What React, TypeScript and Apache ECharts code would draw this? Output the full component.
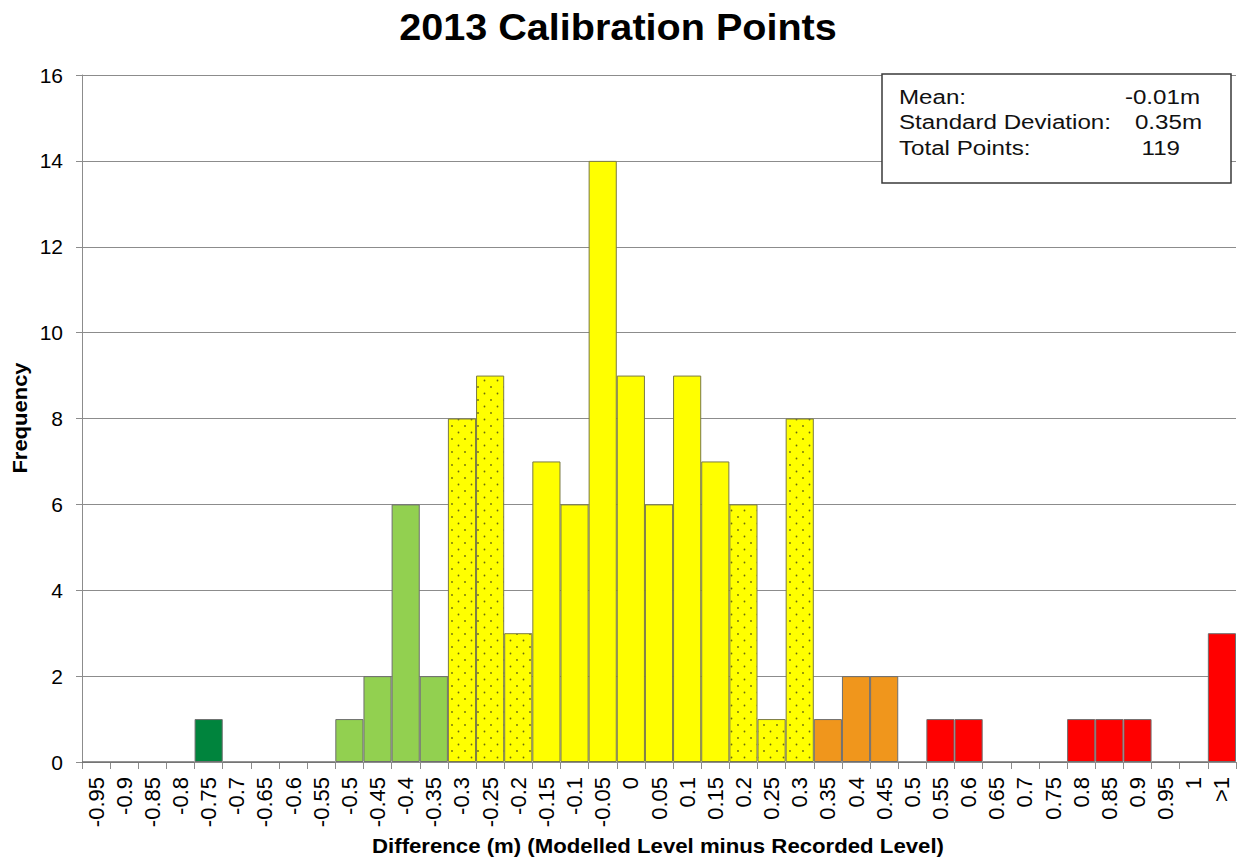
import React, { useEffect, useRef } from "react";
import * as echarts from "echarts";

const categories = [
  "-0.95", "-0.9", "-0.85", "-0.8", "-0.75", "-0.7", "-0.65", "-0.6", "-0.55", "-0.5",
  "-0.45", "-0.4", "-0.35", "-0.3", "-0.25", "-0.2", "-0.15", "-0.1", "-0.05", "0",
  "0.05", "0.1", "0.15", "0.2", "0.25", "0.3", "0.35", "0.4", "0.45", "0.5",
  "0.55", "0.6", "0.65", "0.7", "0.75", "0.8", "0.85", "0.9", "0.95", "1", ">1",
];

const frequency = [
  0, 0, 0, 0, 1, 0, 0, 0, 0, 1,
  2, 6, 2, 8, 9, 3, 7, 6, 14, 9,
  6, 9, 7, 6, 1, 8, 1, 2, 2, 0,
  1, 1, 0, 0, 0, 1, 1, 1, 0, 0, 3,
];

// band of each category: dg dark green, lg light green, yd yellow dotted, y yellow, o orange, r red
const bands = [
  "dg", "dg", "dg", "dg", "dg", "dg", "dg", "dg", "dg", "lg",
  "lg", "lg", "lg", "yd", "yd", "yd", "y", "y", "y", "y",
  "y", "y", "y", "yd", "yd", "yd", "o", "o", "o", "o",
  "r", "r", "r", "r", "r", "r", "r", "r", "r", "r", "r",
];

const titleText = "2013 Calibration Points";
const xAxisName = "Difference (m) (Modelled Level minus Recorded Level)";
const yAxisName = "Frequency";
const statLabels = ["Mean:", "Standard Deviation:", "Total Points:"];
const statValues = ["-0.01m", "0.35m", "119"];

const FONT = "'Liberation Sans', Arial, sans-serif";

function makeDotPattern(): HTMLCanvasElement {
  const c = document.createElement("canvas");
  c.width = 13;
  c.height = 13;
  const ctx = c.getContext("2d")!;
  ctx.fillStyle = "#FFFF00";
  ctx.fillRect(0, 0, 13, 13);
  ctx.fillStyle = "#6a6a10";
  ctx.beginPath();
  ctx.arc(3.5, 3.5, 0.9, 0, Math.PI * 2);
  ctx.fill();
  ctx.beginPath();
  ctx.arc(10, 10, 0.9, 0, Math.PI * 2);
  ctx.fill();
  return c;
}

export default function App() {
  const ref = useRef<HTMLDivElement>(null);
  useEffect(() => {
    if (!ref.current) return;
    const chart = echarts.init(ref.current, undefined, { renderer: "svg" });
    const dotted = { image: makeDotPattern(), repeat: "repeat" };
    const bandStyle: Record<string, any> = {
      dg: "#00843D",
      lg: "#92D050",
      yd: dotted,
      y: "#FFFF00",
      o: "#F0961C",
      r: "#FF0000",
    };
    const data = frequency.map((v, i) => ({
      value: v,
      itemStyle: {
        color: bandStyle[bands[i]],
        borderColor: bands[i] === "y" || bands[i] === "yd" ? "#7a7a45" : "#6e6e6e",
        borderWidth: 1,
      },
    }));

    const graphics: any[] = [
      {
        type: "text",
        x: 618,
        y: 27,
        scaleX: 1.07,
        style: {
          text: titleText,
          font: `bold 37px ${FONT}`,
          fill: "#000",
          align: "center",
          verticalAlign: "middle",
        },
      },
      {
        type: "text",
        x: 658,
        y: 846,
        scaleX: 1.11,
        style: {
          text: xAxisName,
          font: `bold 20px ${FONT}`,
          fill: "#000",
          align: "center",
          verticalAlign: "middle",
        },
      },
      {
        type: "text",
        x: 20,
        y: 418,
        rotation: Math.PI / 2,
        scaleX: 1.1,
        style: {
          text: yAxisName,
          font: `bold 20px ${FONT}`,
          fill: "#000",
          align: "center",
          verticalAlign: "middle",
        },
      },
      {
        type: "rect",
        shape: { x: 882, y: 74, width: 349, height: 109 },
        style: { fill: "#fff", stroke: "#3a3a3a", lineWidth: 1.5 },
        z: 10,
      },
    ];
    statLabels.forEach((t, i) => {
      graphics.push({
        type: "text",
        x: 899,
        y: 97 + i * 25.5,
        scaleX: 1.15,
        z: 11,
        style: {
          text: t,
          font: `21px ${FONT}`,
          fill: "#111",
          align: "left",
          verticalAlign: "middle",
        },
      });
    });
    const valueRight = [1200, 1202, 1180];
    statValues.forEach((t, i) => {
      graphics.push({
        type: "text",
        x: valueRight[i],
        y: 97 + i * 25.5,
        scaleX: 1.15,
        z: 11,
        style: {
          text: t,
          font: `21px ${FONT}`,
          fill: "#111",
          align: "right",
          verticalAlign: "middle",
        },
      });
    });

    chart.setOption({
      animation: false,
      backgroundColor: "#fff",
      textStyle: { fontFamily: FONT },
      grid: {
        left: 82,
        right: 1,
        top: 75,
        bottom: 97,
        containLabel: false,
        outerBoundsMode: "none",
      },
      xAxis: {
        type: "category",
        data: categories,
        boundaryGap: true,
        axisLine: { show: true, lineStyle: { color: "#8c8c8c", width: 1 } },
        axisTick: { show: true, interval: 0, length: 7, lineStyle: { color: "#8c8c8c" } },
        axisLabel: {
          interval: 0,
          rotate: 90,
          margin: 15,
          fontSize: 22,
          color: "#000",
          fontFamily: FONT,
        },
        splitLine: { show: false },
      },
      yAxis: {
        type: "value",
        min: 0,
        max: 16,
        interval: 2,
        axisLine: { show: true, lineStyle: { color: "#8c8c8c", width: 1 } },
        axisTick: { show: true, inside: false, length: 6, lineStyle: { color: "#8c8c8c" } },
        axisLabel: { margin: 19, fontSize: 21, color: "#000", fontFamily: FONT },
        splitLine: { show: true, lineStyle: { color: "#8c8c8c", width: 1 } },
      },
      series: [
        {
          type: "bar",
          data,
          barCategoryGap: "0%",
          barGap: "0%",
        },
      ],
      graphic: graphics,
    });
    return () => chart.dispose();
  }, []);

  return (
    <div
      ref={ref}
      style={{ position: "fixed", left: 0, top: 0, width: 1237, height: 859, background: "#fff" }}
    />
  );
}
